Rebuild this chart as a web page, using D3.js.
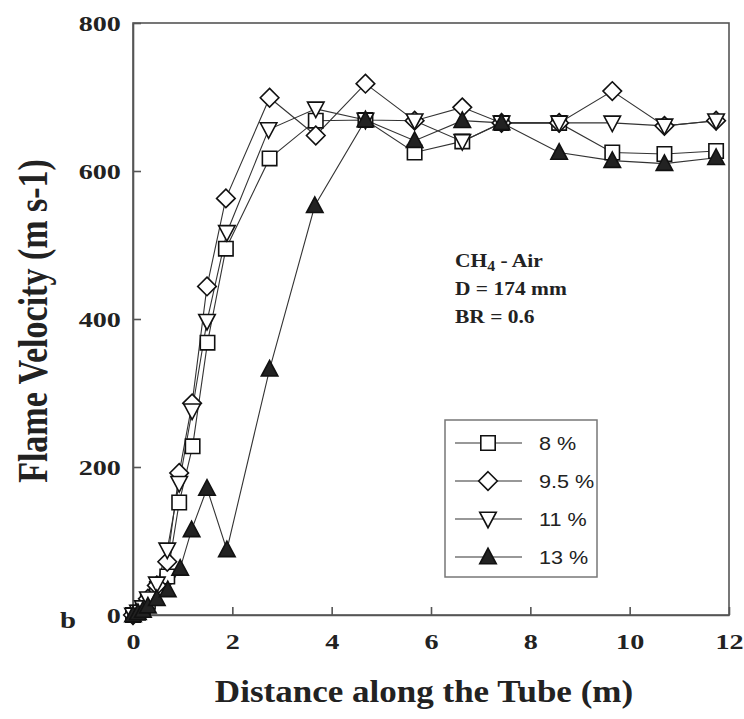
<!DOCTYPE html>
<html><head><meta charset="utf-8">
<script src="https://cdn.jsdelivr.net/npm/d3@7"></script>
<style>
html,body{margin:0;padding:0;background:#fff;}
svg{display:block;}
</style>
</head><body>
<svg id="chart" width="744" height="719"></svg>
<script>
// ---- data ----
const seriesNames = ["8 %", "9.5 %", "11 %", "13 %"];
const seriesShapes = ["square", "diamond", "triangleDown", "triangleUp"];
const xs8   = [0, 0.1, 0.2, 0.3, 0.48, 0.69, 0.93, 1.2, 1.5, 1.87, 2.75, 3.68, 4.68, 5.67, 6.63, 7.42, 8.58, 9.65, 10.7, 11.74];
const ys8   = [0, 3, 8, 18, 35, 52, 152, 228, 368, 495, 617, 668, 669, 625, 640, 665, 665, 625, 623, 627];
const xs95  = [0, 0.1, 0.2, 0.3, 0.48, 0.69, 0.93, 1.19, 1.49, 1.87, 2.75, 3.68, 4.68, 5.67, 6.63, 7.42, 8.58, 9.65, 10.7, 11.74];
const ys95  = [0, 4, 10, 22, 40, 72, 192, 286, 444, 563, 699, 648, 718, 668, 686, 665, 665, 708, 661, 668];
const xs11  = [0, 0.1, 0.2, 0.3, 0.48, 0.69, 0.93, 1.19, 1.49, 1.89, 2.73, 3.68, 4.68, 5.67, 6.63, 7.42, 8.58, 9.65, 10.7, 11.74];
const ys11  = [0, 4, 10, 22, 42, 88, 178, 276, 397, 517, 656, 684, 669, 668, 640, 665, 665, 665, 661, 668];
const xs13  = [0, 0.1, 0.2, 0.3, 0.48, 0.7, 0.95, 1.18, 1.49, 1.89, 2.75, 3.66, 4.68, 5.67, 6.63, 7.42, 8.58, 9.65, 10.7, 11.74];
const ys13  = [0, 3, 6, 12, 22, 34, 63, 115, 171, 88, 332, 553, 669, 641, 668, 665, 625, 614, 610, 618];
const xTicks = [0, 2, 4, 6, 8, 10, 12];
const yTicks = [0, 200, 400, 600, 800];
const annotation = ["CH|4| - Air", "D = 174 mm", "BR = 0.6"];

const seriesX = [xs8, xs95, xs11, xs13];
const seriesY = [ys8, ys95, ys11, ys13];
const series = seriesNames.map((n, i) => ({
  name: n, shape: seriesShapes[i],
  pts: seriesX[i].map((x, j) => ({x, y: seriesY[i][j]}))
}));

// ---- layout ----
const L = 133, R = 729, T = 23, B = 615;
const svg = d3.select("#chart");
const x = d3.scaleLinear().domain([0, 12]).range([L, R]);
const y = d3.scaleLinear().domain([0, 800]).range([B, T]);
const serif = "'Liberation Serif', 'DejaVu Serif', serif";
const sans = "'Liberation Sans', Arial, sans-serif";
const SX = 1.2; // horizontal stretch of the original figure's lettering

function shapePath(shape, s) {
  switch (shape) {
    case "square": { const h = s * 0.48; return `M${-h},${-h}H${h}V${h}H${-h}Z`; }
    case "diamond": { const h = s * 0.62; return `M0,${-h}L${h},0L0,${h}L${-h},0Z`; }
    case "triangleDown": { const w = s * 0.55, h = s * 0.45; return `M${-w},${-h}H${w}L0,${h + 2}Z`; }
    case "triangleUp": { const w = s * 0.55, h = s * 0.45; return `M${-w},${h}H${w}L0,${-h - 2}Z`; }
  }
}
function shapeFill(shape) { return shape === "triangleUp" ? "#222" : "#fff"; }

// frame
svg.append("rect").attr("x", L).attr("y", T).attr("width", R - L).attr("height", B - T)
  .attr("fill", "none").attr("stroke", "#555").attr("stroke-width", 1.6);

// axes
const xAxis = d3.axisBottom(x).tickValues(xTicks).tickSizeInner(-8).tickSizeOuter(0).tickPadding(18).tickFormat(d3.format("d"));
const yAxis = d3.axisLeft(y).tickValues(yTicks).tickSizeInner(-8).tickSizeOuter(0).tickPadding(9.5).tickFormat(d3.format("d"));
const gx = svg.append("g").attr("transform", `translate(0,${B})`).call(xAxis);
const gy = svg.append("g").attr("transform", `translate(${L},0)`).call(yAxis);
[gx, gy].forEach(g => {
  g.select(".domain").attr("stroke", "#555").attr("stroke-width", 1.6);
  g.selectAll(".tick line").attr("stroke", "#555").attr("stroke-width", 1.6);
  g.selectAll(".tick text").attr("font-family", serif).attr("font-weight", "bold")
    .attr("font-size", 22).attr("fill", "#222").attr("transform", "scale(1.28,1)");
});

// axis titles
svg.append("text").attr("transform", `translate(${(L + R) / 2 - 7},702) scale(1.13,1)`).attr("text-anchor", "middle")
  .attr("font-family", serif).attr("font-weight", "bold").attr("font-size", 31).attr("fill", "#222")
  .text("Distance along the Tube (m)");
svg.append("text").attr("transform", `translate(47,321) rotate(-90) scale(1,1.22)`).attr("text-anchor", "middle")
  .attr("font-family", serif).attr("font-weight", "bold").attr("font-size", 34).attr("fill", "#222")
  .text("Flame Velocity (m s-1)");
svg.append("text").attr("transform", `translate(60,628) scale(1.2,1)`).attr("font-family", serif).attr("font-weight", "bold")
  .attr("font-size", 24).attr("fill", "#222").text("b");

// lines
const line = d3.line().x(d => x(d.x)).y(d => y(d.y));
series.forEach(s => {
  svg.append("path").datum(s.pts).attr("d", line).attr("fill", "none")
    .attr("stroke", "#333").attr("stroke-width", 1.1);
});
// markers
series.forEach(s => {
  svg.append("g").selectAll("path").data(s.pts).join("path")
    .attr("transform", d => `translate(${x(d.x)},${y(d.y)})`)
    .attr("d", shapePath(s.shape, 15))
    .attr("fill", shapeFill(s.shape)).attr("stroke", "#111").attr("stroke-width", 1.6);
});

// annotation
annotation.forEach((t, i) => {
  const tx = svg.append("text").attr("transform", `translate(455,${267 + i * 28}) scale(1.13,1)`)
    .attr("font-family", serif).attr("font-weight", "bold").attr("font-size", 19).attr("fill", "#222");
  const parts = t.split("|");
  parts.forEach((p, k) => {
    const sp = tx.append("tspan").text(p);
    if (k === 1) sp.attr("font-size", 14).attr("dy", 4);
    if (k === 2) sp.attr("dy", -4);
  });
});

// legend
const lg = svg.append("g");
lg.append("rect").attr("x", 445).attr("y", 420).attr("width", 152).attr("height", 157)
  .attr("fill", "#fff").attr("stroke", "#777").attr("stroke-width", 1.5);
const rowY = d3.scalePoint().domain(seriesNames).range([443, 557]);
series.forEach(s => {
  const yy = rowY(s.name);
  lg.append("line").attr("x1", 455).attr("x2", 522).attr("y1", yy).attr("y2", yy)
    .attr("stroke", "#333").attr("stroke-width", 1.1);
  lg.append("path").attr("transform", `translate(488,${yy})`).attr("d", shapePath(s.shape, 15))
    .attr("fill", shapeFill(s.shape)).attr("stroke", "#111").attr("stroke-width", 1.6);
  lg.append("text").attr("transform", `translate(539,${yy + 6.5}) scale(1.2,1)`).attr("font-family", sans)
    .attr("font-size", 18).attr("fill", "#222").text(s.name);
});
</script>
</body></html>
